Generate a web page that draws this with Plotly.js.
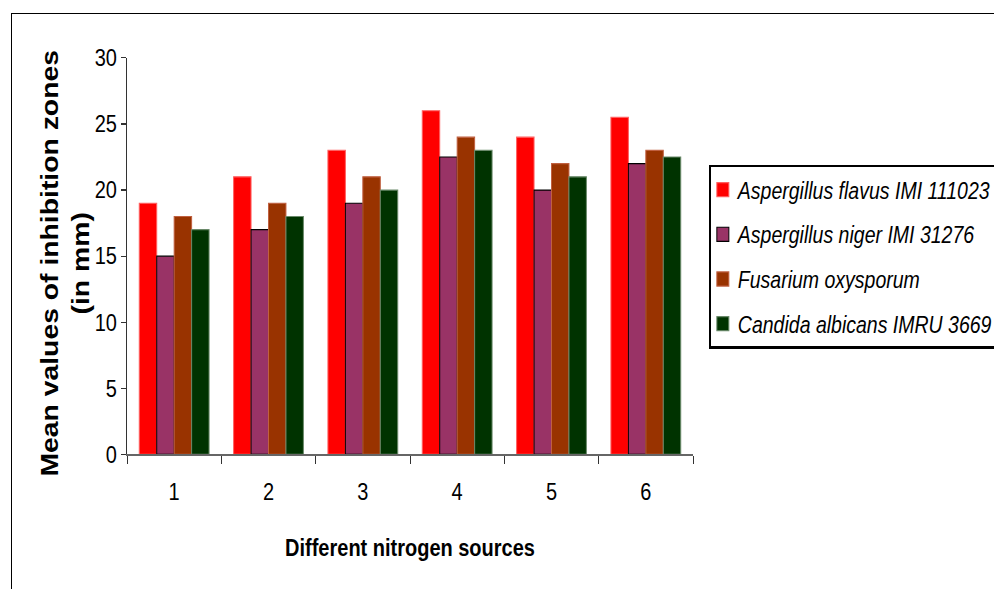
<!DOCTYPE html>
<html>
<head>
<meta charset="utf-8">
<script src="https://cdn.plot.ly/plotly-3.0.1.min.js"></script>
<style>
html,body{margin:0;padding:0;width:994px;height:589px;overflow:hidden;background:#fff;}
#frame{position:absolute;left:11px;top:13px;width:1100px;height:700px;border:1.5px solid #000;box-sizing:border-box;}
#chart{position:absolute;left:0;top:0;width:994px;height:499px;transform-origin:0 0;transform:scale(1,1.1804);}
</style>
</head>
<body>
<div id="frame"></div>
<div id="chart"></div>
<script>
const categories = ['1', '2', '3', '4', '5', '6'];
const seriesNames = ['Aspergillus flavus IMI 111023', 'Aspergillus niger IMI 31276', 'Fusarium oxysporum', 'Candida albicans IMRU 3669'];
const flavus = [19, 21, 23, 26, 24, 25.5];
const niger = [15, 17, 19, 22.5, 20, 22];
const fusarium = [18, 19, 21, 24, 22, 23];
const candida = [17, 18, 20, 23, 21, 22.5];
const yTicks = [0, 5, 10, 15, 20, 25, 30];
const xTitle = 'Different nitrogen sources';
const yTitle = 'Mean values of inhibition zones<br>(in mm)';

const colors = ['#FF0000', '#993366', '#993300', '#003300'];
const lineColors = ['#FF6060', '#000000', '#C06040', '#6A8A6A'];
const values = [flavus, niger, fusarium, candida];

const traces = values.map((v, i) => ({
  type: 'bar',
  x: categories,
  y: v,
  name: seriesNames[i],
  legendgroup: 'g' + i,
  marker: {color: colors[i], line: {color: lineColors[i], width: 1}},
  hoverinfo: 'y'
}));

const layout = {
  width: 994, height: 499,
  margin: {l: 127, r: 301, t: 49, b: 114, autoexpand: false},
  paper_bgcolor: 'rgba(0,0,0,0)',
  plot_bgcolor: 'rgba(0,0,0,0)',
  barmode: 'group',
  bargap: 0.26,
  bargroupgap: 0,
  font: {family: 'Liberation Sans, Arial, sans-serif', color: '#000'},
  xaxis: {
    type: 'category',
    tickson: 'boundaries',
    ticks: 'outside', ticklen: 7, tickcolor: '#333', tickwidth: 1,
    ticklabelstandoff: 13,
    showline: true, linecolor: '#666', linewidth: 1.5,
    showgrid: false, zeroline: false,
    tickfont: {size: 20},
    title: {text: '<b>' + xTitle + '</b>', font: {size: 20}, standoff: 30}
  },
  yaxis: {
    range: [0, 30],
    tickvals: yTicks,
    ticks: 'outside', ticklen: 5, tickcolor: '#333', tickwidth: 1,
    showline: true, linecolor: '#333', linewidth: 1,
    showgrid: false, zeroline: false,
    tickfont: {size: 20}
  },
  annotations: [{
    xref: 'paper', yref: 'paper', x: -0.1095, y: 0.48,
    xanchor: 'center', yanchor: 'middle', textangle: -90, showarrow: false,
    text: '<b>' + yTitle + '</b>', font: {size: 24}
  }],
  showlegend: true,
  legend: {
    x: 1.028, y: 0.7307, xanchor: 'left', yanchor: 'top',
    bordercolor: '#000', borderwidth: 2, bgcolor: '#fff',
    font: {size: 19.5, style: 'italic'},
    traceorder: 'grouped',
    tracegroupgap: 9.5,
    itemwidth: 30
  }
};

Plotly.newPlot('chart', traces, layout, {displayModeBar: false, staticPlot: true}).then(gd => {
  gd.querySelectorAll('.legend .legendtext').forEach(t => t.setAttribute('x', 27));
  gd.querySelectorAll('.legend .legendsymbols').forEach(s => s.setAttribute('transform', 'translate(-8,0)'));
});
</script>
</body>
</html>
